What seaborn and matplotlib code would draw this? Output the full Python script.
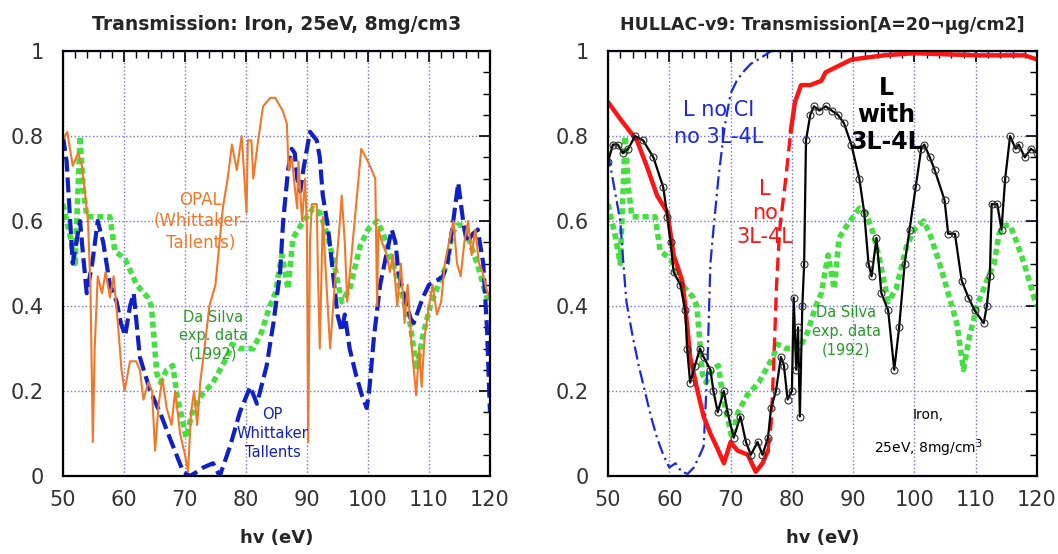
import numpy as np
import pandas as pd
import seaborn as sns
import matplotlib as mpl
mpl.use('Agg')
import matplotlib.pyplot as plt
from matplotlib.ticker import MultipleLocator, FuncFormatter

# ---- left panel: OPAL (Whittaker-Tallents) ----
opal_x = [50.0, 50.7, 51.6, 52.5, 53.1, 54.1, 54.5, 54.9, 55.2, 55.7, 56.4, 57.0, 57.7, 58.3, 59.0,
          59.6, 60.1, 61.0, 62.0, 62.6, 63.2, 64.0, 64.6, 65.1, 65.7, 66.3, 67.0, 67.8, 68.4, 69.2,
          70.0, 70.5, 71.0, 71.5, 72.0, 72.5, 73.2, 74.0, 75.0, 76.2, 77.0, 77.7, 78.5, 79.3, 80.1,
          80.3, 80.9, 81.2, 82.0, 82.8, 84.0, 84.8, 86.0, 86.7, 87.0, 87.5, 88.0, 88.4, 88.6, 89.2,
          89.7, 90.0, 90.2, 90.5, 90.8, 91.6, 91.8, 92.1, 92.6, 93.2, 93.8, 94.6, 95.4, 95.7, 96.2,
          96.6, 97.5, 98.9, 100.0, 101.2, 101.5, 101.7, 102.3, 103.1, 103.6, 104.1, 104.8, 105.4,
          106.0, 106.5, 107.2, 107.9, 108.4, 108.8, 109.3, 110.0, 110.6, 111.3, 112.0, 112.6, 113.3,
          114.0, 114.6, 115.2, 115.8, 116.4, 117.0, 117.6, 118.2, 118.8, 119.4, 120.0]
opal_y = [0.79, 0.81, 0.73, 0.76, 0.73, 0.60, 0.45, 0.08, 0.30, 0.47, 0.43, 0.48, 0.42, 0.47, 0.36,
          0.25, 0.20, 0.27, 0.27, 0.25, 0.18, 0.22, 0.20, 0.06, 0.17, 0.23, 0.16, 0.12, 0.20, 0.10,
          0.05, 0.01, 0.15, 0.20, 0.12, 0.22, 0.30, 0.40, 0.45, 0.63, 0.70, 0.78, 0.72, 0.80, 0.62,
          0.79, 0.79, 0.70, 0.79, 0.87, 0.89, 0.89, 0.86, 0.83, 0.72, 0.75, 0.68, 0.63, 0.74, 0.60,
          0.70, 0.58, 0.08, 0.55, 0.64, 0.64, 0.48, 0.30, 0.61, 0.45, 0.30, 0.46, 0.60, 0.66, 0.55,
          0.41, 0.55, 0.77, 0.74, 0.70, 0.40, 0.58, 0.55, 0.52, 0.48, 0.52, 0.40, 0.50,
          0.36, 0.45, 0.30, 0.19, 0.30, 0.21, 0.33, 0.40, 0.45, 0.38, 0.41, 0.50, 0.55,
          0.60, 0.50, 0.47, 0.55, 0.60, 0.52, 0.58, 0.50, 0.48, 0.44, 0.42]

# ---- left panel: OP (Whittaker-Tallents) ----
op_x = [50.0, 50.6, 51.1, 51.6, 52.2, 52.8, 53.3, 53.9, 54.8, 55.7, 56.6, 57.7, 58.8, 59.5, 60.2,
        61.0, 61.6, 62.6, 64.3, 65.9, 67.5, 69.7, 70.8, 72.0, 73.0, 74.6, 75.7, 77.4, 79.0, 80.7,
        81.8, 83.4, 84.5, 85.6, 86.1, 86.9, 87.5, 88.0, 88.4, 88.9, 89.4, 90.0, 90.5, 91.6, 92.1,
        92.6, 93.4, 94.1, 95.0, 95.7, 96.2, 97.0, 98.0, 99.0, 99.8, 100.2, 101.0, 102.0, 103.0,
        103.9, 104.5, 105.0, 106.0, 107.0, 107.5, 108.0, 109.0, 110.0, 111.3, 112.3, 113.0, 113.8,
        114.8, 115.6, 116.2, 117.2, 118.0, 118.9, 119.5, 120.0]
op_y = [0.80, 0.74, 0.62, 0.50, 0.55, 0.60, 0.52, 0.43, 0.50, 0.60, 0.55, 0.45, 0.41, 0.36, 0.33,
        0.40, 0.43, 0.28, 0.20, 0.15, 0.09, 0.01, 0.00, 0.01, 0.02, 0.03, 0.00, 0.07, 0.15, 0.21,
        0.17, 0.26, 0.36, 0.48, 0.60, 0.72, 0.77, 0.76, 0.70, 0.67, 0.72, 0.77, 0.81, 0.79, 0.75,
        0.66, 0.59, 0.50, 0.38, 0.34, 0.38, 0.30, 0.24, 0.19, 0.16, 0.20, 0.33, 0.45, 0.52,
        0.58, 0.55, 0.48, 0.42, 0.37, 0.36, 0.38, 0.42, 0.45, 0.46, 0.47, 0.50, 0.58,
        0.69, 0.60, 0.55, 0.57, 0.58, 0.50, 0.35, 0.15]

# ---- Da Silva exp. data (1992), both panels ----
ds_x = [50.0, 51.1, 52.0, 52.8, 53.3, 53.9, 55.0, 56.0, 57.7, 58.5, 60.2, 62.1, 63.9, 64.5, 65.4,
        66.0, 67.0, 68.0, 68.7, 70.2, 71.2, 72.7, 74.6, 76.9, 77.7, 79.0, 81.2, 82.6, 83.9, 84.8,
        85.9, 86.9, 87.7, 89.0, 91.0, 92.1, 93.3, 94.3, 95.7, 97.0, 98.7, 100.0, 101.5, 102.5,
        104.1, 105.3, 106.9, 108.0, 109.0, 110.2, 111.8, 113.0, 113.8, 114.6, 115.6, 116.7, 117.9,
        119.5, 120.0]
ds_y = [0.64, 0.57, 0.50, 0.80, 0.68, 0.61, 0.61, 0.61, 0.61, 0.53, 0.51, 0.45, 0.42, 0.40, 0.24,
        0.22, 0.25, 0.26, 0.19, 0.09, 0.15, 0.19, 0.22, 0.28, 0.31, 0.30, 0.30, 0.34, 0.40, 0.43,
        0.52, 0.44, 0.56, 0.59, 0.63, 0.62, 0.57, 0.51, 0.41, 0.44, 0.54, 0.58, 0.60, 0.57,
        0.50, 0.44, 0.36, 0.25, 0.33, 0.40, 0.46, 0.50, 0.57, 0.59, 0.59, 0.55, 0.50,
        0.42, 0.40]

# ---- right panel: L no CI, no 3L-4L ----
noci_x = [50.0, 51.0, 52.0, 52.5, 53.0, 54.0, 55.0, 56.0, 57.0, 58.0, 59.0, 60.0, 61.0, 62.0, 63.0,
          64.0, 65.0, 65.6, 66.2, 66.7, 67.2, 68.0, 69.0, 70.0, 71.0, 72.0, 73.3, 74.5, 76.6, 80.0,
          90.0, 100.0, 110.0, 120.0]
noci_y = [0.76, 0.68, 0.60, 0.50, 0.41, 0.33, 0.26, 0.20, 0.14, 0.09, 0.05, 0.02, 0.03, 0.01, 0.005,
          0.02, 0.05, 0.07, 0.25, 0.50, 0.58, 0.70, 0.82, 0.90, 0.93, 0.95, 0.97, 0.98, 1.0, 1.0,
          1.0, 1.0, 1.0, 1.0]

# ---- right panel: L no 3L-4L ----
red_x = [50.0, 52.0, 54.7, 56.3, 58.0, 59.7, 60.7, 62.1, 62.6, 63.4, 64.6, 65.6, 66.7, 68.0, 68.9,
         70.0, 71.1, 72.8, 74.1, 75.2, 76.1, 76.6, 77.0, 77.5, 78.0, 79.0, 79.8, 80.5, 81.5, 83.0,
         84.8, 85.5, 86.9, 89.7, 95.0, 100.0, 110.0, 118.0, 120.0]
red_y = [0.88, 0.84, 0.79, 0.73, 0.66, 0.62, 0.52, 0.46, 0.40, 0.28, 0.20, 0.14, 0.10, 0.06, 0.03,
         0.08, 0.06, 0.05, 0.01, 0.03, 0.06, 0.12, 0.25, 0.45, 0.58, 0.70, 0.81, 0.88, 0.92, 0.92,
         0.93, 0.95, 0.96, 0.98, 0.99, 0.995, 0.99, 0.99, 0.98]

# ---- right panel: L with 3L-4L ----
lw_x = [50.0, 50.8, 51.6, 52.4, 53.3, 54.4, 55.7, 57.4, 59.0, 59.7, 60.2, 60.7, 61.8, 62.6, 62.9,
        63.4, 64.2, 65.0, 65.6, 66.7, 67.2, 67.9, 68.9, 69.5, 70.5, 71.6, 72.5, 73.3, 74.4, 75.2,
        76.1, 76.6, 77.4, 78.2, 78.7, 79.3, 80.0, 80.3, 80.7, 81.0, 81.3, 81.7, 82.0, 82.3, 83.0,
        83.6, 84.5, 85.5, 86.5, 87.5, 88.5, 89.7, 91.0, 91.8, 92.5, 93.0, 93.8, 94.6, 95.7, 96.7,
        97.5, 98.4, 99.2, 100.2, 101.1, 101.6, 102.5, 103.3, 104.9, 105.5, 106.6, 107.7, 108.8,
        109.8, 111.3, 111.8, 112.3, 112.6, 113.5, 114.2, 114.8, 115.6, 116.5, 117.0, 118.0, 119.0,
        120.0]
lw_y = [0.74, 0.78, 0.78, 0.76, 0.77, 0.80, 0.79, 0.75, 0.68, 0.61, 0.55, 0.48, 0.45, 0.39, 0.30,
        0.22, 0.26, 0.30, 0.28, 0.25, 0.20, 0.15, 0.20, 0.15, 0.09, 0.14, 0.08, 0.05, 0.08, 0.05,
        0.09, 0.16, 0.20, 0.28, 0.26, 0.18, 0.20, 0.42, 0.25, 0.35, 0.14, 0.40, 0.50, 0.79, 0.85,
        0.87, 0.86, 0.87, 0.86, 0.85, 0.83, 0.78, 0.70, 0.62, 0.50, 0.47, 0.56, 0.43, 0.39, 0.25,
        0.35, 0.50, 0.58, 0.68, 0.77, 0.78, 0.75, 0.72, 0.65, 0.57, 0.57, 0.46, 0.42,
        0.39, 0.36, 0.40, 0.47, 0.64, 0.64, 0.58, 0.70, 0.80, 0.77, 0.78, 0.75, 0.77,
        0.76]

x_ticks = [50, 60, 70, 80, 90, 100, 110, 120]
y_ticks = [0, 0.2, 0.4, 0.6, 0.8, 1]

sns.set_theme(style="white")
plt.rcParams['font.family'] = ['DejaVu Sans']

C_ORANGE = '#f07828'
C_BLUE = '#1020c8'
C_GREEN = '#44e040'
C_GREEN_TXT = '#2a9a2a'
C_RED = '#ff1414'


def frame(ax, title, title_size):
    ax.set_xlim(50, 120)
    ax.set_ylim(0, 1)
    ax.set_xticks(x_ticks)
    ax.set_yticks(y_ticks)
    ax.xaxis.set_minor_locator(MultipleLocator(2))
    ax.yaxis.set_minor_locator(MultipleLocator(0.05))
    ax.yaxis.set_major_formatter(FuncFormatter(lambda v, p: f"{v:g}"))
    ax.tick_params(which='both', direction='in', top=True, right=True, color='black')
    ax.tick_params(which='major', length=8, width=1.2, labelsize=15, labelcolor='#333333')
    ax.tick_params(which='minor', length=5, width=1.0)
    ax.tick_params(axis='x', which='major', pad=10)
    ax.tick_params(axis='y', which='major', pad=14)
    ax.grid(True, which='major', color='#7070ff', linestyle=':', linewidth=1.0)
    for s in ax.spines.values():
        s.set_color('black')
        s.set_linewidth(1.6)
    ax.set_title(title, fontsize=title_size, fontweight='bold', pad=15)
    ax.set_xlabel('hv (eV)', fontsize=13, fontweight='bold', labelpad=14)
    ax.set_ylabel('')


fig = plt.figure(figsize=(10.58, 5.54), dpi=100)
ax1 = fig.add_axes([0.0595, 0.1408, 0.4036, 0.767])
ax2 = fig.add_axes([0.5747, 0.1408, 0.4055, 0.767])

# left panel
sns.lineplot(x=ds_x, y=ds_y, ax=ax1, color=C_GREEN, linewidth=4, linestyle=(0, (1.1, 0.7)),
             estimator=None, sort=False)
sns.lineplot(x=op_x, y=op_y, ax=ax1, color=C_BLUE, linewidth=3, linestyle=(0, (3.6, 1.4)),
             estimator=None, sort=False)
sns.lineplot(x=opal_x, y=opal_y, ax=ax1, color=C_ORANGE, linewidth=1.5,
             estimator=None, sort=False)
frame(ax1, 'Transmission: Iron, 25eV, 8mg/cm3', 13.5)

ax1.text(72.5, 0.6, 'OPAL\n(Whittaker-\nTallents)', color=C_ORANGE, fontsize=12,
         ha='center', va='center', linespacing=1.25)
ax1.text(74.6, 0.33, 'Da Silva\nexp. data\n(1992)', color=C_GREEN_TXT, fontsize=10.5,
         ha='center', va='center', linespacing=1.3)
ax1.text(84.4, 0.1, 'OP\nWhittaker\nTallents', color=C_BLUE, fontsize=10.5,
         ha='center', va='center', linespacing=1.3)

# right panel
sns.lineplot(x=ds_x, y=ds_y, ax=ax2, color=C_GREEN, linewidth=4, linestyle=(0, (1.1, 0.7)),
             estimator=None, sort=False)
sns.lineplot(x=noci_x, y=noci_y, ax=ax2, color='#1a28e0', linewidth=1.6,
             linestyle=(0, (6, 2, 1, 2)), estimator=None, sort=False)
i0, i1 = 20, 26
sns.lineplot(x=red_x[:i0 + 1], y=red_y[:i0 + 1], ax=ax2, color=C_RED, linewidth=3.2,
             estimator=None, sort=False)
sns.lineplot(x=red_x[i0:i1 + 1], y=red_y[i0:i1 + 1], ax=ax2, color=C_RED, linewidth=2.4,
             linestyle=(0, (4, 2)), estimator=None, sort=False)
sns.lineplot(x=red_x[i1:], y=red_y[i1:], ax=ax2, color=C_RED, linewidth=3.2,
             estimator=None, sort=False)
sns.lineplot(x=lw_x, y=lw_y, ax=ax2, color='black', linewidth=1.6, marker='o', markersize=5,
             markerfacecolor='none', markeredgecolor='#333333', markeredgewidth=0.8,
             estimator=None, sort=False)
frame(ax2, 'HULLAC-v9: Transmission[A=20¬μg/cm2]', 12.5)

ax2.text(68.0, 0.83, 'L no CI\nno 3L-4L', color='#1a28e0', fontsize=15,
         ha='center', va='center', linespacing=1.4)
ax2.text(75.6, 0.62, 'L\nno\n3L-4L', color=C_RED, fontsize=15,
         ha='center', va='center', linespacing=1.25)
ax2.text(95.4, 0.85, 'L\nwith\n3L-4L', color='black', fontsize=17, fontweight='bold',
         ha='center', va='center', linespacing=1.15)
ax2.text(88.9, 0.34, 'Da Silva\nexp. data\n(1992)', color=C_GREEN_TXT, fontsize=10.5,
         ha='center', va='center', linespacing=1.3)
ax2.text(102.3, 0.1, 'Iron,\n25eV, 8mg/cm$^3$', color='black', fontsize=10,
         ha='center', va='center', linespacing=2.0)

fig.savefig('out.png', dpi=100)
